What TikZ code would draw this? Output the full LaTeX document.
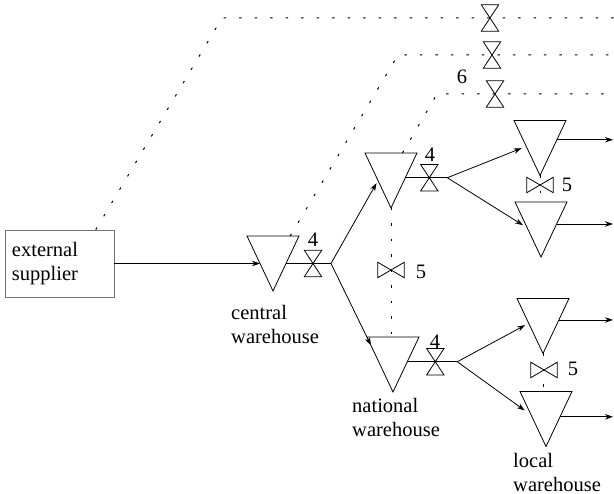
\documentclass[tikz,border=0pt]{standalone}
\usepackage{fontspec}
\setmainfont{Liberation Serif}
\usetikzlibrary{calc,arrows.meta}

\tikzset{
  wh/.style={minimum width=52pt, minimum height=55pt, inner sep=0pt, outer sep=0pt},
  flow/.style={line width=0.8pt, -{Stealth[length=8pt,width=5.5pt]}},
  link/.style={line width=0.8pt},
  info/.style={line width=1pt, dash pattern=on 2.5pt off 13pt},
  sym/.style={line width=0.8pt},
  hgbox/.style={minimum width=17pt, minimum height=26pt, inner sep=0pt},
  btbox/.style={minimum width=26pt, minimum height=15pt, inner sep=0pt},
  lbl/.style={inner sep=0pt, font=\fontsize{20.5}{24}\selectfont},
  caption/.style={lbl, align=left, anchor=west},
}
% stock point: downward triangle inside its node box
\newcommand\stockdraw[1]{\draw[sym] (#1.north west) -- (#1.north east) -- (#1.south) -- cycle;}
% lead-time symbol on a horizontal line
\newcommand\hourglassdraw[1]{\draw[sym] (#1.north west) -- (#1.north east) -- (#1.south west) -- (#1.south east) -- cycle;}
% lateral-transshipment symbol on a vertical line
\newcommand\bowtiedraw[1]{\draw[sym] (#1.north west) -- (#1.south east) -- (#1.north east) -- (#1.south west) -- cycle;}

\begin{document}
\begin{tikzpicture}[x=1pt,y=-1pt]
\useasboundingbox (0,0) rectangle (614,494);

% external supplier
\node[draw=black!55, line width=0.8pt, minimum width=109pt, minimum height=67pt,
      text width=95pt, lbl, align=left] (ext) at (59.5,263.5) {external\\supplier};

% stock points
\node[wh] (cw) at (273,263.5) {};
\node[wh] (nu) at (391,180.5) {};
\node[wh] (nl) at (393,364.5) {};
\node[wh] (u1) at (540,148) {};
\node[wh] (u2) at (541,229.5) {};
\node[wh] (l1) at (543,326) {};
\node[wh] (l2) at (546,419) {};
\foreach \w in {cw,nu,nl,u1,u2,l1,l2} {\stockdraw{\w}}

% attachment points on the triangle sides
\coordinate (cw-in)  at ($(cw.north west)!0.5!(cw.south)$);
\coordinate (cw-out) at ($(cw.north east)!0.5!(cw.south)$);
\coordinate (nu-in)  at ($(nu.north west)!0.5!(nu.south)$);
\coordinate (nu-out) at ($(nu.north east)!0.45!(nu.south)$);
\coordinate (nl-in)  at ($(nl.north west)!0.15!(nl.south)$);
\coordinate (nl-out) at ($(nl.north east)!0.45!(nl.south)$);
\coordinate (u1-in)  at ($(u1.north west)!0.47!(u1.south)$);
\coordinate (u1-out) at ($(u1.north east)!0.35!(u1.south)$);
\coordinate (u2-in)  at ($(u2.north west)!0.47!(u2.south)$);
\coordinate (u2-out) at ($(u2.north east)!0.4!(u2.south)$);
\coordinate (l1-in)  at ($(l1.north west)!0.45!(l1.south)$);
\coordinate (l1-out) at ($(l1.north east)!0.39!(l1.south)$);
\coordinate (l2-in)  at ($(l2.north west)!0.43!(l2.south)$);
\coordinate (l2-out) at ($(l2.north east)!0.46!(l2.south)$);

% branch points
\coordinate (b1) at ($(cw-out)+(45,0)$);
\coordinate (b2) at ($(nu-out)+(42,0)$);
\coordinate (b3) at ($(nl-out)+(50,0)$);
\coordinate (rim) at (613,0);

% lead-time symbols
\node[hgbox] (h1) at ($(cw-out)+(27,0)$) {};
\node[hgbox] (h2) at ($(nu-out)+(24,0)$) {};
\node[hgbox] (h3) at ($(nl-out)+(28,0)$) {};
\node[hgbox] (g1) at (490,18) {};
\node[hgbox] (g2) at (492,55) {};
\node[hgbox] (g3) at (495,94) {};
% transshipment symbols
\node[btbox] (t1) at (391,270) {};
\node[btbox] (t2) at (540,185) {};
\node[btbox] (t3) at (544,370) {};
\foreach \s in {h1,h2,h3,g1,g2,g3} {\hourglassdraw{\s}}
\foreach \s in {t1,t2,t3} {\bowtiedraw{\s}}

% material flow
\draw[flow] (ext.east) -- (ext.east -| cw-in);
\draw[link] (cw-out) -- (b1);
\draw[flow, shorten >=3pt] (b1) -- (nu-in);
\draw[flow] (b1) -- (nl-in);
\draw[link] (nu-out) -- (b2);
\draw[flow, shorten >=5pt] (b2) -- (u1-in);
\draw[flow, shorten >=5pt] (b2) -- (u2-in);
\draw[link] (nl-out) -- (b3);
\draw[flow, shorten >=4pt] (b3) -- (l1-in);
\draw[flow, shorten >=8pt] (b3) -- (l2-in);
\foreach \p in {u1-out,u2-out,l1-out,l2-out} {\draw[flow] (\p) -- (\p -| rim);}

% information flow
\coordinate (c1) at (222,18);  \coordinate (r1) at (614,18);
\coordinate (c2) at (398,55);  \coordinate (r2) at (614,55);
\coordinate (c3) at (437,94);  \coordinate (r3) at (614,94);
\draw[info] ($(ext.north west)!0.83!(ext.north east)$) -- (c1) -- (r1);
\draw[info] ($(cw.north west)!0.83!(cw.north east)$) -- (c2) -- (r2);
\draw[info] ($(nu.north west)!0.72!(nu.north east)$) -- (c3) -- (r3);

% lateral links
\draw[info] (nu.south) -- (nu.south |- nl.north);
\draw[info] (u1.south) -- (u1.south |- u2.north);
\draw[info] (l1.south) -- (l1.south |- l2.north);

% numbers
\node[lbl] (k1) at (313,240) {4};
\node[lbl] (k2) at (430,155) {4};
\node[lbl] (k3) at (435,342) {4};
\node[lbl] (k4) at (462,77) {6};
\node[lbl] (k5) at (421,272) {5};
\node[lbl] (k6) at (567,185) {5};
\node[lbl] (k7) at (573,369) {5};

% captions
\node[caption] (cap1) at (231,324) {central\\warehouse};
\node[caption] (cap2) at (352,417.5) {national\\warehouse};
\node[caption] (cap3) at (513,472) {local\\warehouse};
\end{tikzpicture}
\end{document}
